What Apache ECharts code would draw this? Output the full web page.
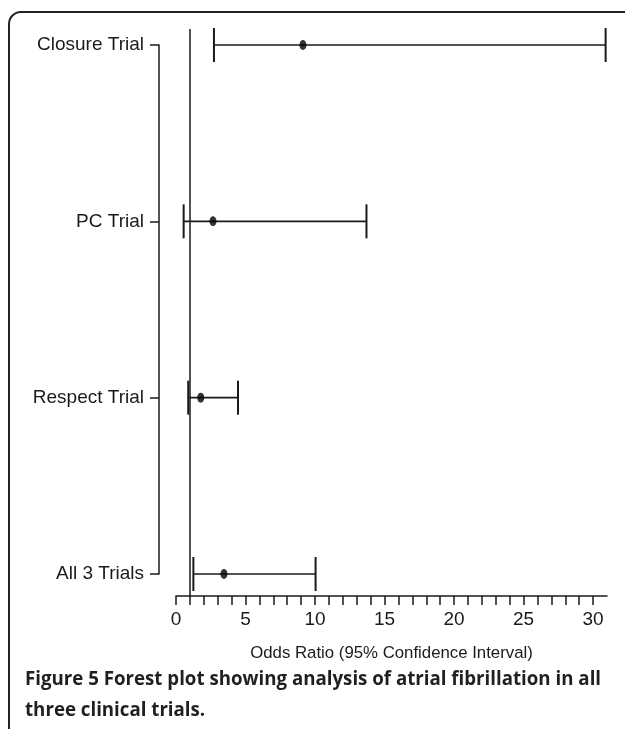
<!DOCTYPE html>
<html>
<head>
<meta charset="utf-8">
<title>Forest plot</title>
<script src="https://cdn.jsdelivr.net/npm/echarts@6/dist/echarts.min.js"></script>
<style>
  html, body { margin: 0; padding: 0; background: #fff; }
  #chart { width: 625px; height: 729px; }
</style>
</head>
<body>
<div id="chart"></div>
<script>
// trials, top to bottom
const trials = ['Closure Trial', 'PC Trial', 'Respect Trial', 'All 3 Trials']
const oddsRatio = [9.13, 2.66, 1.78, 3.45]
const ciLower = [2.73, 0.55, 0.88, 1.25]
const ciUpper = [30.9, 13.7, 4.46, 10.04]
const xTicks = [0, 5, 10, 15, 20, 25, 30]

const ink = '#1a1a1a'
const labelFont = '"Liberation Sans", Arial, sans-serif'

const chartRef = document.getElementById('chart')
let chart = null

const initChart = () => {
  chart = echarts.init(chartRef, null, { renderer: 'canvas' })
  updateChart()
}

const updateChart = () => {
  if (!chart) return

  const rows = trials.map((_, i) => i)
  const points = rows.map(i => [oddsRatio[i], i])
  const bars = rows.map(i => [ciLower[i], ciUpper[i], i])

  const option = {
    backgroundColor: '#fff',
    animation: false,
    grid: [
      // bracket axis holding the trial names
      { left: 159, width: 10, top: 45, height: 529 },
      // plot area
      { left: 176, right: 18, top: 29, bottom: 133 }
    ],
    xAxis: [
      { gridIndex: 0, type: 'value', show: false },
      {
        gridIndex: 1,
        type: 'value',
        min: 0,
        max: 31,
        interval: 1,
        name: 'Odds Ratio (95% Confidence Interval)',
        nameLocation: 'middle',
        nameGap: 49,
        nameTextStyle: { color: ink, fontSize: 16.8, fontFamily: labelFont },
        axisLine: { show: true, onZero: false, lineStyle: { color: ink, width: 1.5 } },
        axisTick: { show: true, length: 9, lineStyle: { color: ink, width: 1.5 } },
        axisLabel: {
          color: ink,
          fontSize: 19,
          fontFamily: labelFont,
          margin: 14,
          showMaxLabel: false,
          formatter: (v) => (xTicks.includes(v) ? String(v) : '')
        },
        splitLine: { show: false }
      }
    ],
    yAxis: [
      {
        gridIndex: 0,
        type: 'category',
        inverse: true,
        boundaryGap: false,
        data: trials,
        axisLine: { show: true, lineStyle: { color: ink, width: 1.5 } },
        axisTick: { show: true, length: 9, lineStyle: { color: ink, width: 1.5 } },
        axisLabel: { color: ink, fontSize: 19, fontFamily: labelFont, margin: 15 },
        splitLine: { show: false }
      },
      {
        gridIndex: 1,
        type: 'value',
        inverse: true,
        // rows sit at 0..3, leave room above the first row and below the last
        min: -0.0907,
        max: 3.1248,
        show: false
      }
    ],
    series: [
      {
        name: 'CI',
        type: 'custom',
        xAxisIndex: 1,
        yAxisIndex: 1,
        data: bars,
        renderItem: (params, api) => {
          const row = api.value(2)
          const lo = api.coord([api.value(0), row])
          const hi = api.coord([api.value(1), row])
          const cap = 17
          const style = { stroke: ink, lineWidth: 1.6 }
          return {
            type: 'group',
            children: [
              { type: 'line', shape: { x1: lo[0], y1: lo[1], x2: hi[0], y2: hi[1] }, style },
              { type: 'line', shape: { x1: lo[0], y1: lo[1] - cap, x2: lo[0], y2: lo[1] + cap }, style: { stroke: ink, lineWidth: 2 } },
              { type: 'line', shape: { x1: hi[0], y1: hi[1] - cap, x2: hi[0], y2: hi[1] + cap }, style: { stroke: ink, lineWidth: 2 } }
            ]
          }
        },
        // line of no effect at OR = 1
        markLine: {
          silent: true,
          symbol: 'none',
          label: { show: false },
          lineStyle: { color: ink, width: 1.5, type: 'solid' },
          data: [{ xAxis: 1 }]
        }
      },
      {
        name: 'OR',
        type: 'scatter',
        xAxisIndex: 1,
        yAxisIndex: 1,
        data: points,
        symbol: 'circle',
        symbolSize: [7, 10],
        itemStyle: { color: '#000' },
        z: 5
      }
    ],
    graphic: [
      {
        type: 'rect',
        silent: true,
        shape: { x: 9, y: 12, width: 700, height: 800, r: 12 },
        style: { fill: 'none', stroke: '#222', lineWidth: 2 }
      },
      {
        type: 'text',
        left: 25,
        top: 670,
        style: {
          text: 'Figure 5 Forest plot showing analysis of atrial fibrillation in all',
          fill: '#231f20',
          font: 'bold 18.7px "Open Sans", "Noto Sans", sans-serif'
        }
      },
      {
        type: 'text',
        left: 25,
        top: 701,
        style: {
          text: 'three clinical trials.',
          fill: '#231f20',
          font: 'bold 18.7px "Open Sans", "Noto Sans", sans-serif'
        }
      }
    ]
  }

  chart.setOption(option)
}

initChart()
window.addEventListener('resize', () => {
  chart?.resize()
})
</script>
</body>
</html>
